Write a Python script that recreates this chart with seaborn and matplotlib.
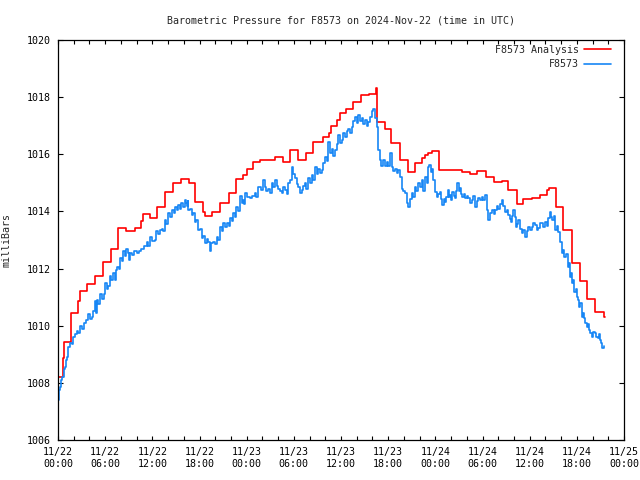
import matplotlib
matplotlib.use("Agg")
import matplotlib.pyplot as plt
import seaborn as sns
import pandas as pd

title = "Barometric Pressure for F8573 on 2024-Nov-22 (time in UTC)"
ylabel = "milliBars"
analysis_label = "F8573 Analysis"
station_label = "F8573"

# station readings: (hours since 2024-11-22 00:00 UTC, millibars)
station_hours = [
    0.0, 0.12, 0.25, 0.4, 0.55, 0.72, 0.9, 1.0, 1.1, 1.3, 1.5, 1.72, 1.95, 2.15, 2.4, 2.6,
    2.8, 3.1, 3.25, 3.4, 3.6, 3.85, 4.05, 4.3, 4.5, 4.7, 4.85, 5.0, 5.15, 5.35, 5.55, 5.8,
    6.0, 6.2, 6.4, 6.6, 6.8, 7.0, 7.2, 7.35, 7.5, 7.7, 7.9, 8.1, 8.3, 8.5, 8.7, 8.85,
    9.0, 9.2, 9.4, 9.7, 10.0, 10.3, 10.6, 10.95, 11.3, 11.5, 11.7, 12.0, 12.3, 12.5,
    12.75, 12.95, 13.2, 13.4, 13.6, 13.8, 14.0, 14.25, 14.5, 14.7, 14.9, 15.1, 15.3,
    15.5, 15.7, 15.95, 16.2, 16.3, 16.4, 16.5, 16.6, 16.8, 17.0, 17.2, 17.4, 17.6,
    17.85, 18.05, 18.3, 18.5, 18.7, 18.9, 19.1, 19.3, 19.5, 19.75, 20.0, 20.2, 20.4,
    20.6, 20.8, 21.0, 21.25, 21.5, 21.7, 21.9, 22.1, 22.3, 22.5, 22.7, 22.9, 23.15,
    23.35, 23.57, 23.7, 23.85, 24.1, 24.42, 24.7, 25.06, 25.25, 25.48, 25.8, 26.12,
    26.33, 26.5, 26.75, 26.95, 27.18, 27.4, 27.6, 27.8, 28.03, 28.25, 28.45, 28.65,
    28.87, 29.1, 29.3, 29.5, 29.72, 29.95, 30.15, 30.35, 30.57, 30.8, 30.99, 31.2,
    31.42, 31.6, 31.84, 32.05, 32.27, 32.5, 32.69, 32.9, 33.11, 33.3, 33.54, 33.75,
    33.96, 34.2, 34.39, 34.6, 34.81, 35.0, 35.23, 35.45, 35.66, 35.85, 36.08, 36.3,
    36.51, 36.7, 36.93, 37.15, 37.35, 37.55, 37.78, 38.0, 38.2, 38.4, 38.63, 38.85,
    39.05, 39.25, 39.47, 39.7, 39.9, 40.11, 40.32, 40.53, 40.75, 40.96, 41.15, 41.38,
    41.6, 41.81, 42.0, 42.23, 42.44, 42.65, 42.87, 43.08, 43.3, 43.5, 43.71, 43.9,
    44.14, 44.35, 44.56, 44.75, 44.99, 45.2, 45.41, 45.6, 45.83, 46.05, 46.26, 46.45,
    46.68, 46.9, 47.1, 47.2, 47.45, 47.6, 47.75, 47.96, 48.17, 48.4, 48.6, 48.75,
    48.89, 49.05, 49.23, 49.4, 49.57, 49.7, 49.87, 50.0, 50.17, 50.35, 50.5, 50.65,
    50.8, 50.95, 51.14, 51.3, 51.44, 51.6, 51.78, 52.0, 52.2, 52.4, 52.63, 52.85,
    53.05, 53.25, 53.47, 53.7, 53.9, 54.1, 54.32, 54.53, 54.75, 54.95, 55.17, 55.4,
    55.59, 55.8, 56.02, 56.25, 56.44, 56.65, 56.87, 57.1, 57.29, 57.45, 57.63, 57.8,
    57.93, 58.1, 58.22, 58.4, 58.56, 58.8, 58.99, 59.2, 59.41, 59.6, 59.83, 60.05,
    60.26, 60.45, 60.68, 60.9, 61.11, 61.3, 61.53, 61.75, 61.95, 62.15, 62.38, 62.59,
    62.75, 62.89, 63.05, 63.23, 63.45, 63.65, 63.86, 64.07, 64.25, 64.41, 64.6, 64.84,
    65.0, 65.13, 65.3, 65.43, 65.55, 65.69, 65.85, 65.98, 66.1, 66.28, 66.45, 66.62,
    66.8, 66.96, 67.1, 67.25, 67.4, 67.55, 67.7, 67.89, 68.1, 68.31, 68.5, 68.65, 68.8,
    68.95, 69.1, 69.25, 69.46,
]
station_mb = [
    1007.4, 1007.75, 1007.87, 1008.1, 1008.2, 1008.5, 1008.57, 1008.8, 1008.9, 1009.25,
    1009.4, 1009.35, 1009.6, 1009.7, 1009.8, 1009.75, 1010.0, 1009.9, 1010.1, 1010.1,
    1010.2, 1010.4, 1010.25, 1010.3, 1010.5, 1010.85, 1010.45, 1010.9, 1010.75, 1011.1,
    1010.95, 1011.1, 1011.5, 1011.3, 1011.4, 1011.75, 1011.6, 1011.83, 1011.6, 1011.95,
    1012.07, 1012.0, 1012.36, 1012.25, 1012.6, 1012.45, 1012.7, 1012.55, 1012.3,
    1012.55, 1012.47, 1012.6, 1012.53, 1012.62, 1012.7, 1012.8, 1012.94, 1012.8, 1013.1,
    1012.95, 1013.0, 1013.3, 1013.2, 1013.35, 1013.4, 1013.3, 1013.7, 1013.55, 1013.93,
    1013.8, 1014.05, 1013.95, 1014.17, 1014.05, 1014.22, 1014.1, 1014.28, 1014.15,
    1014.4, 1014.3, 1014.2, 1014.35, 1014.05, 1014.1, 1013.87, 1013.95, 1013.64, 1013.7,
    1013.35, 1013.4, 1013.06, 1013.15, 1012.88, 1013.05, 1012.94, 1012.6, 1012.9,
    1012.94, 1012.85, 1013.1, 1013.0, 1013.47, 1013.3, 1013.58, 1013.45, 1013.58,
    1013.5, 1013.76, 1013.65, 1013.93, 1013.8, 1014.17, 1014.0, 1014.55, 1014.3, 1014.4,
    1014.25, 1014.63, 1014.5, 1014.46, 1014.55, 1014.63, 1014.5, 1014.87, 1014.75,
    1015.1, 1014.87, 1014.7, 1014.8, 1014.65, 1014.98, 1014.85, 1015.1, 1014.9, 1014.8,
    1014.7, 1014.63, 1014.85, 1014.75, 1014.6, 1014.98, 1015.1, 1015.57, 1015.3,
    1015.16, 1014.95, 1014.87, 1014.65, 1014.75, 1014.9, 1014.98, 1014.8, 1015.16,
    1015.0, 1015.27, 1015.1, 1015.57, 1015.3, 1015.5, 1015.35, 1015.45, 1015.7, 1015.92,
    1015.75, 1016.44, 1016.05, 1016.2, 1015.95, 1016.15, 1016.35, 1016.67, 1016.4,
    1016.5, 1016.75, 1016.6, 1016.8, 1016.9, 1016.75, 1016.97, 1017.15, 1017.32, 1017.1,
    1017.37, 1017.15, 1017.26, 1017.05, 1017.2, 1017.0, 1017.14, 1017.3, 1017.5, 1017.6,
    1017.26, 1016.97, 1016.15, 1015.8, 1015.6, 1015.8, 1015.6, 1015.74, 1015.6, 1016.03,
    1015.57, 1015.4, 1015.5, 1015.33, 1015.45, 1015.22, 1014.8, 1014.7, 1014.63,
    1014.28, 1014.17, 1014.45, 1014.63, 1014.5, 1014.87, 1014.7, 1014.98, 1014.85,
    1015.1, 1014.7, 1015.22, 1015.0, 1015.57, 1015.63, 1015.39, 1015.5, 1015.1, 1014.69,
    1014.52, 1014.6, 1014.69, 1014.45, 1014.22, 1014.45, 1014.34, 1014.5, 1014.75,
    1014.5, 1014.58, 1014.4, 1014.69, 1014.55, 1014.46, 1014.7, 1014.98, 1014.7,
    1014.81, 1014.6, 1014.52, 1014.6, 1014.46, 1014.55, 1014.46, 1014.3, 1014.4,
    1014.55, 1014.17, 1014.35, 1014.46, 1014.4, 1014.52, 1014.4, 1014.58, 1014.05,
    1013.7, 1013.95, 1014.05, 1013.9, 1014.05, 1014.2, 1014.1, 1014.25, 1014.4, 1014.2,
    1013.99, 1014.05, 1013.87, 1013.75, 1013.64, 1013.85, 1014.05, 1013.8, 1013.47,
    1013.55, 1013.7, 1013.4, 1013.23, 1013.35, 1013.12, 1013.3, 1013.47, 1013.35,
    1013.47, 1013.6, 1013.52, 1013.35, 1013.41, 1013.6, 1013.58, 1013.45, 1013.64,
    1013.5, 1013.76, 1013.99, 1013.8, 1013.7, 1013.85, 1013.35, 1013.5, 1013.29,
    1012.94, 1012.53, 1012.65, 1012.42, 1012.5, 1012.07, 1012.2, 1011.72, 1011.85,
    1011.48, 1011.6, 1011.19, 1011.3, 1011.02, 1010.9, 1010.67, 1010.8, 1010.32,
    1010.45, 1010.26, 1010.1, 1009.97, 1010.05, 1009.85, 1009.75, 1009.62, 1009.78,
    1009.73, 1009.6, 1009.56, 1009.7, 1009.5, 1009.4, 1009.21, 1009.29,
]

# hourly analysis values (step changes)
analysis_hours = [
    0.0, 0.68, 0.8, 1.61, 2.6, 2.8, 3.73, 4.7, 5.68, 6.7, 7.67, 8.65, 9.8, 10.56, 10.85,
    11.7, 12.6, 13.6, 14.67, 15.65, 16.7, 17.4, 18.4, 18.7, 19.55, 20.6, 21.7, 22.6,
    23.57, 24.0, 24.85, 25.7, 27.6, 28.57, 29.5, 30.57, 31.6, 32.5, 33.66, 34.5, 34.7,
    35.45, 35.9, 36.6, 37.57, 38.5, 39.5, 40.45, 40.6, 41.6, 42.4, 43.5, 44.56, 45.4,
    46.3, 46.7, 47.1, 47.6, 48.47, 51.4, 52.4, 53.26, 54.5, 55.4, 56.44, 57.3, 58.35,
    59.2, 60.26, 61.3, 62.2, 62.4, 63.3, 64.3, 65.35, 66.4, 67.34, 68.3, 69.4, 69.6,
]
analysis_mb = [
    1008.2, 1008.86, 1009.42, 1010.43, 1010.85, 1011.2, 1011.46, 1011.74, 1012.22,
    1012.67, 1013.41, 1013.32, 1013.41, 1013.66, 1013.9, 1013.78, 1014.17, 1014.69,
    1014.98, 1015.13, 1014.98, 1014.34, 1013.99, 1013.83, 1013.99, 1014.31, 1014.63,
    1015.13, 1015.27, 1015.5, 1015.74, 1015.8, 1015.9, 1015.73, 1016.15, 1015.8,
    1016.06, 1016.44, 1016.62, 1016.73, 1017.0, 1017.2, 1017.43, 1017.57, 1017.84,
    1018.07, 1018.1, 1018.31, 1017.14, 1016.87, 1016.38, 1015.8, 1015.39, 1015.68,
    1015.86, 1015.97, 1016.06, 1016.11, 1015.45, 1015.39, 1015.3, 1015.43, 1015.2,
    1015.04, 1015.07, 1014.75, 1014.26, 1014.42, 1014.46, 1014.58, 1014.75, 1014.81,
    1014.14, 1013.35, 1012.21, 1011.58, 1010.92, 1010.49, 1010.32, 1010.32,
]

xtick_hours = [0, 6, 12, 18, 24, 30, 36, 42, 48, 54, 60, 66, 72]
xtick_labels = [
    "11/22\n00:00", "11/22\n06:00", "11/22\n12:00", "11/22\n18:00",
    "11/23\n00:00", "11/23\n06:00", "11/23\n12:00", "11/23\n18:00",
    "11/24\n00:00", "11/24\n06:00", "11/24\n12:00", "11/24\n18:00",
    "11/25\n00:00",
]
ytick_values = [1006, 1008, 1010, 1012, 1014, 1016, 1018, 1020]

sns.set_theme(style="ticks")
plt.rcParams["font.family"] = ["DejaVu Sans Mono"]
plt.rcParams["font.size"] = 7.2

fig = plt.figure(figsize=(6.4, 4.8), dpi=100)
ax = fig.add_axes([58 / 640, 40 / 480, 566 / 640, 400 / 480])

df_a = pd.DataFrame({"h": analysis_hours, "p": analysis_mb})
df_s = pd.DataFrame({"h": station_hours, "p": station_mb})

sns.lineplot(data=df_a, x="h", y="p", ax=ax, color="#ff0000", lw=1.2,
             drawstyle="steps-post", estimator=None, sort=False, label=analysis_label)
sns.lineplot(data=df_s, x="h", y="p", ax=ax, color="#1786f5", lw=1.2,
             drawstyle="steps-post", estimator=None, sort=False, label=station_label)

ax.set_xlim(0, 72)
ax.set_ylim(1006, 1020)
ax.set_xticks(xtick_hours)
ax.set_xticklabels(xtick_labels)
ax.set_xticks([h for h in range(0, 73, 2) if h % 6 != 0], minor=True)
ax.set_yticks(ytick_values)
ax.set_yticklabels([str(v) for v in ytick_values])
ax.tick_params(axis="y", which="major", direction="in", length=3.6, width=0.8,
               left=True, right=True, labelsize=7.2, colors="black", pad=5)
ax.tick_params(axis="x", which="major", direction="in", length=3.0, width=0.8,
               top=True, bottom=True, labelsize=7.2, colors="black", pad=5)
ax.tick_params(axis="x", which="minor", direction="in", length=2.6, width=0.8,
               top=True, bottom=True, colors="black")
for s in ax.spines.values():
    s.set_color("black")
    s.set_linewidth(0.9)
ax.set_xlabel("")
ax.set_ylabel(ylabel, fontsize=7.2)
ax.yaxis.set_label_coords((12 - 58) / 566, 0.5)
ax.set_title(title, fontsize=7.2, pad=12)
ax.grid(False)

leg = ax.legend(loc="upper right", frameon=False, markerfirst=False, fontsize=7.2,
                handlelength=2.7, handletextpad=0.5, borderaxespad=0.0, borderpad=0.0,
                labelspacing=0.45,
                bbox_to_anchor=((611 - 58) / 566, (440 - 45) / 400))
for t in leg.get_texts():
    t.set_ha("right")

fig.savefig("out.png", dpi=100)
